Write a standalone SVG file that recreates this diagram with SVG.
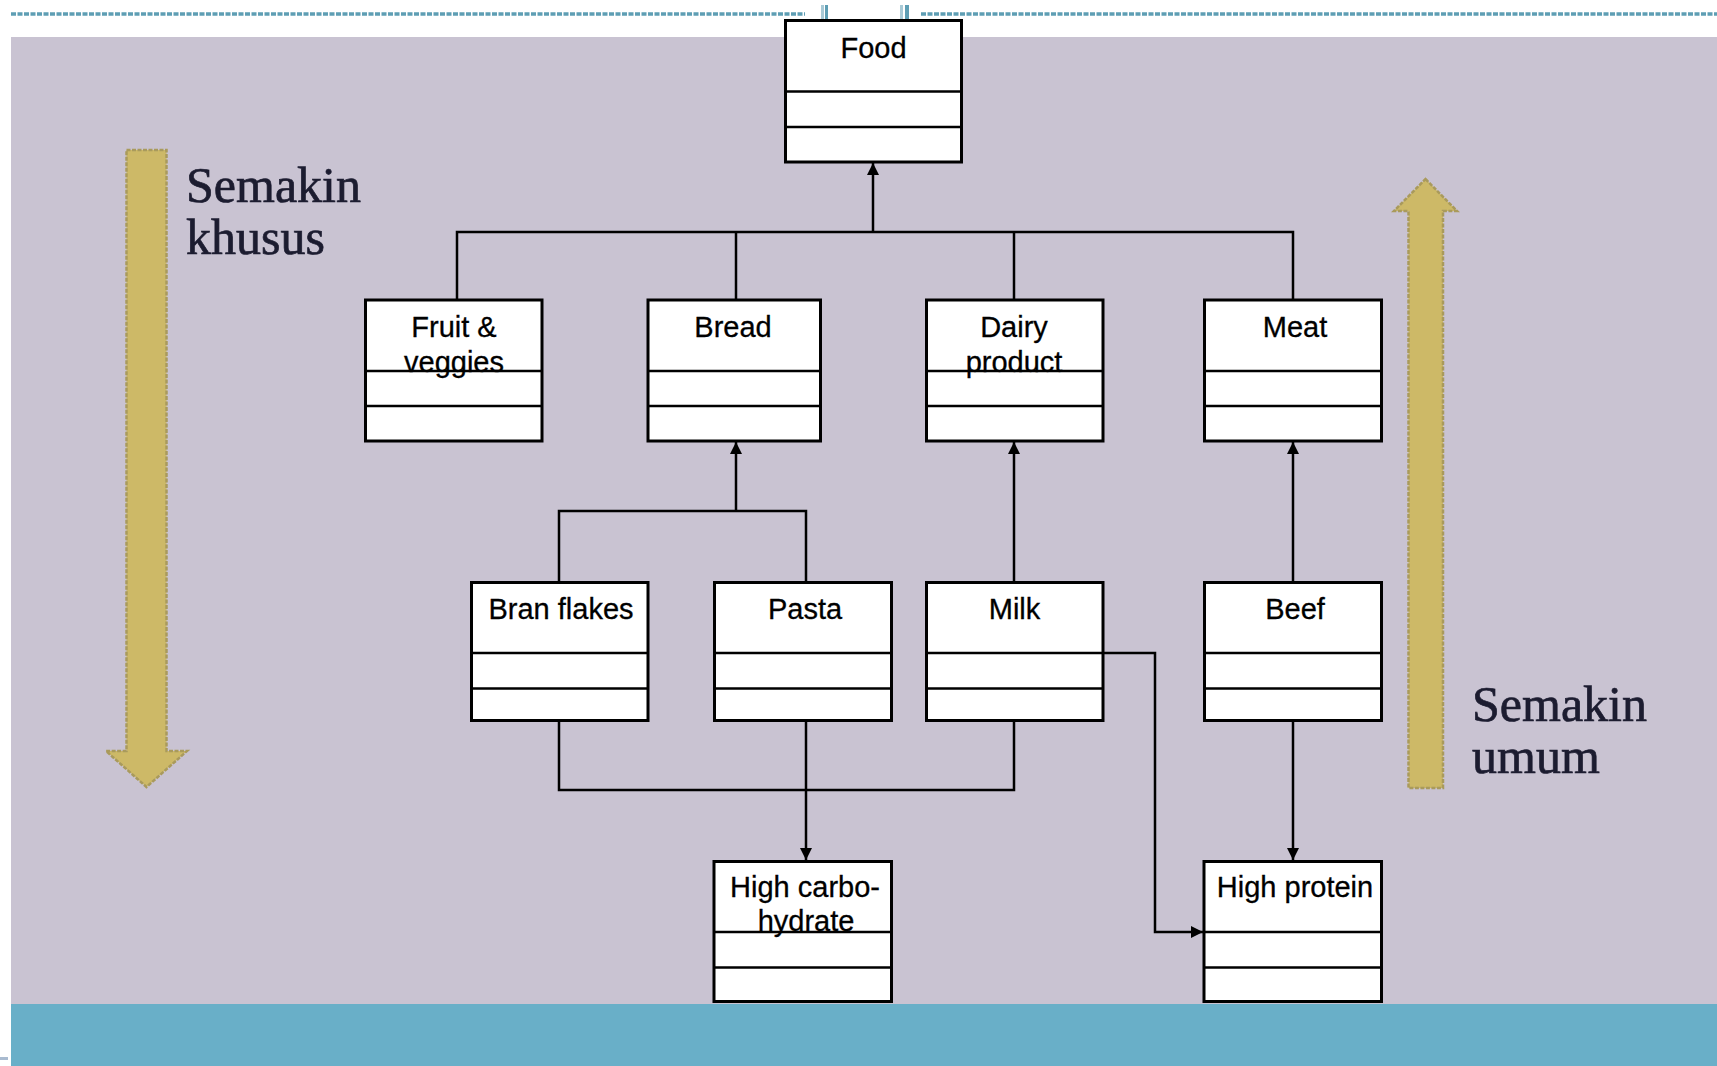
<svg xmlns="http://www.w3.org/2000/svg" width="1717" height="1066" viewBox="0 0 1717 1066">
<style>
.box rect{fill:#fff;stroke:#000;stroke-width:3}
.box line{stroke:#000;stroke-width:2.6}
.box text{font-family:"Liberation Sans",Arial,sans-serif;font-size:29px;fill:#000;text-anchor:middle;stroke:#000;stroke-width:0.3}
.conn path{fill:none;stroke:#000;stroke-width:2.5}
.big{fill:#CDB967;stroke:#A99A5C;stroke-width:2.5;stroke-dasharray:4 1.5}
.side{font-family:"Liberation Serif","Times New Roman",serif;font-size:50px;fill:#1c1c30;stroke:#1c1c30;stroke-width:0.7}
</style>
<defs>
<marker id="ah" markerUnits="userSpaceOnUse" markerWidth="12" markerHeight="12" refX="12" refY="6" orient="auto">
<path d="M0,0 L12,6 L0,12 z" fill="#000"/>
</marker>
</defs>
<rect x="0" y="0" width="1717" height="1066" fill="#fff"/>
<g id="frame">
<line x1="11" y1="14" x2="805" y2="14" stroke="#5E9EB4" stroke-width="3.5" stroke-dasharray="5 1.5"/>
<line x1="921" y1="14" x2="1717" y2="14" stroke="#5E9EB4" stroke-width="3.5" stroke-dasharray="5 1.5"/>
<rect x="821" y="5" width="3" height="14" fill="#A9CAD6"/>
<rect x="825" y="5" width="3" height="14" fill="#5E9EB4"/>
<rect x="900" y="5" width="3" height="14" fill="#A9CAD6"/>
<rect x="905" y="5" width="4" height="14" fill="#5E9EB4"/>
<rect x="11" y="37" width="1706" height="967" fill="#C9C3D2"/>
<rect x="11" y="1004" width="1706" height="62" fill="#69AFC8"/>
<rect x="0" y="1057" width="8" height="3" fill="#A9BBD0"/>
</g>
<g id="arrow-down">
<path class="big" d="M126.5,150 H166.5 V751 H187 L146.5,787 L106,751 H126.5 Z"/>
</g>
<g id="arrow-up">
<path class="big" d="M1425.5,179 L1457,211 H1443 V788 H1408.5 V211 H1394 Z"/>
</g>
<text class="side" x="186" y="202">Semakin</text>
<text class="side" x="186" y="254">khusus</text>
<text class="side" x="1472" y="721">Semakin</text>
<text class="side" x="1472" y="773">umum</text>
<g class="conn" id="connectors">
<path d="M873,232 V163" marker-end="url(#ah)"/>
<path d="M457,300 V232 H1293 V300"/>
<path d="M736,232 V300"/>
<path d="M1014,232 V300"/>
<path d="M559,582 V511 H806 V582"/>
<path d="M736,511 V442" marker-end="url(#ah)"/>
<path d="M1014,582 V442" marker-end="url(#ah)"/>
<path d="M1293,582 V442" marker-end="url(#ah)"/>
<path d="M559,721 V790 H1014 V721"/>
<path d="M806,721 V860" marker-end="url(#ah)"/>
<path d="M1104,653 H1155 V932 H1203" marker-end="url(#ah)"/>
<path d="M1293,721 V860" marker-end="url(#ah)"/>
</g>
<g class="box" id="food">
<rect x="785.5" y="20.5" width="176" height="141.5"/>
<line x1="785.5" y1="91.5" x2="961.5" y2="91.5"/>
<line x1="785.5" y1="127" x2="961.5" y2="127"/>
<text x="873.5" y="58">Food</text>
</g>
<g class="box" id="fruit">
<rect x="365.5" y="300" width="176.5" height="141"/>
<line x1="365.5" y1="371" x2="542" y2="371"/>
<line x1="365.5" y1="406" x2="542" y2="406"/>
<text x="454" y="337">Fruit &amp;</text>
<text x="454" y="372">veggies</text>
</g>
<g class="box" id="bread">
<rect x="648" y="300" width="172.5" height="141"/>
<line x1="648" y1="371" x2="820.5" y2="371"/>
<line x1="648" y1="406" x2="820.5" y2="406"/>
<text x="733" y="337">Bread</text>
</g>
<g class="box" id="dairy">
<rect x="926.5" y="300" width="176.5" height="141"/>
<line x1="926.5" y1="371" x2="1103" y2="371"/>
<line x1="926.5" y1="406" x2="1103" y2="406"/>
<text x="1014" y="337">Dairy</text>
<text x="1014" y="372">product</text>
</g>
<g class="box" id="meat">
<rect x="1204.5" y="300" width="177" height="141"/>
<line x1="1204.5" y1="371" x2="1381.5" y2="371"/>
<line x1="1204.5" y1="406" x2="1381.5" y2="406"/>
<text x="1295" y="337">Meat</text>
</g>
<g class="box" id="bran">
<rect x="471.5" y="582.5" width="176.5" height="138"/>
<line x1="471.5" y1="653" x2="648" y2="653"/>
<line x1="471.5" y1="688.5" x2="648" y2="688.5"/>
<text x="561" y="619">Bran flakes</text>
</g>
<g class="box" id="pasta">
<rect x="714.5" y="582.5" width="177" height="138"/>
<line x1="714.5" y1="653" x2="891.5" y2="653"/>
<line x1="714.5" y1="688.5" x2="891.5" y2="688.5"/>
<text x="805" y="619">Pasta</text>
</g>
<g class="box" id="milk">
<rect x="926.5" y="582.5" width="176.5" height="138"/>
<line x1="926.5" y1="653" x2="1103" y2="653"/>
<line x1="926.5" y1="688.5" x2="1103" y2="688.5"/>
<text x="1014.5" y="619">Milk</text>
</g>
<g class="box" id="beef">
<rect x="1204.5" y="582.5" width="177" height="138"/>
<line x1="1204.5" y1="653" x2="1381.5" y2="653"/>
<line x1="1204.5" y1="688.5" x2="1381.5" y2="688.5"/>
<text x="1295" y="619">Beef</text>
</g>
<g class="box" id="highcarbo">
<rect x="714" y="861.5" width="177.5" height="140"/>
<line x1="714" y1="932" x2="891.5" y2="932"/>
<line x1="714" y1="967.5" x2="891.5" y2="967.5"/>
<text x="805" y="897">High carbo-</text>
<text x="806" y="931">hydrate</text>
</g>
<g class="box" id="highprotein">
<rect x="1204" y="861.5" width="177.5" height="140"/>
<line x1="1204" y1="932" x2="1381.5" y2="932"/>
<line x1="1204" y1="967.5" x2="1381.5" y2="967.5"/>
<text x="1295" y="897">High protein</text>
</g>
</svg>
